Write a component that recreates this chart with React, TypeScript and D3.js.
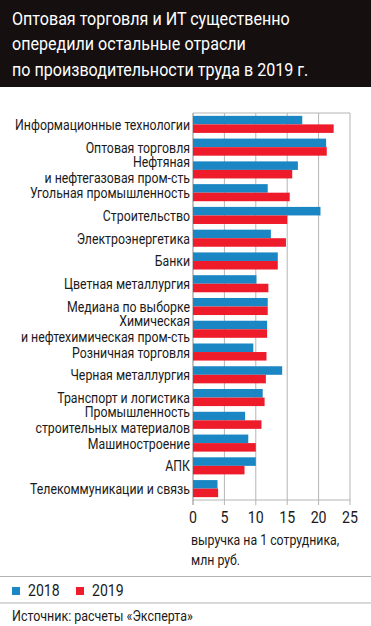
import React from "react";
import * as d3 from "d3";

const categories = [
  "Информационные технологии",
  "Оптовая торговля",
  "Нефтяная\nи нефтегазовая пром-сть",
  "Угольная промышленность",
  "Строительство",
  "Электроэнергетика",
  "Банки",
  "Цветная металлургия",
  "Медиана по выборке",
  "Химическая\nи нефтехимическая пром-сть",
  "Розничная торговля",
  "Черная металлургия",
  "Транспорт и логистика",
  "Промышленность\nстроительных материалов",
  "Машиностроение",
  "АПК",
  "Телекоммуникации и связь",
];

const values2018 = [17.4, 21.2, 16.7, 11.9, 20.3, 12.4, 13.5, 10.1, 11.9, 11.8, 9.6, 14.2, 11.1, 8.3, 8.8, 10.0, 3.9];
const values2019 = [22.4, 21.3, 15.8, 15.4, 15.0, 14.8, 13.5, 12.0, 11.9, 11.8, 11.7, 11.6, 11.4, 10.9, 10.0, 8.2, 4.0];

const xTicks = [0, 5, 10, 15, 20, 25];
const titleLines = [
  "Оптовая торговля и ИТ существенно",
  "опередили остальные отрасли",
  "по производительности труда в 2019 г.",
];
const axisTitleLines = ["выручка на 1 сотрудника,", "млн руб."];
const seriesNames = ["2018", "2019"];
const sourceText = "Источник: расчеты «Эксперта»";

const W = 371;
const H = 626;
const BLUE = "#1a86c4";
const RED = "#ee1c2b";
const GRID = "#b4b4b4";
const FONT = "Roboto, 'Liberation Sans', sans-serif";

export default function App() {
  const x = d3.scaleLinear().domain([0, 25]).range([193, 350]);
  const y = d3
    .scaleBand<string>()
    .domain(categories)
    .range([113, 500])
    .paddingInner(0.25)
    .paddingOuter(0.125);
  const bw = y.bandwidth() / 2;
  const top = 113;
  const bottom = 500;

  const cText = (
    key: string | number,
    tx: number,
    ty: number,
    content: string,
    size: number,
    anchor: "start" | "middle" | "end",
    sx: number,
    fill = "#1a1a1a"
  ) => (
    <text
      key={key}
      transform={`translate(${tx},${ty}) scale(${sx},1)`}
      fontSize={size}
      textAnchor={anchor}
      fill={fill}
      fontFamily={FONT}
    >
      {content}
    </text>
  );

  return (
    <svg
      width={W}
      height={H}
      style={{ position: "absolute", left: 0, top: 0, display: "block", background: "#fff" }}
    >
      <rect x={0} y={0} width={W} height={87} fill="#150f10" />
      {titleLines.map((t, i) => cText("t" + i, 12, 24.5 + i * 25.5, t, 18.5, "start", 0.87, "#ffffff"))}

      {/* grid */}
      <line x1={x(0)} x2={x(25)} y1={top} y2={top} stroke={GRID} strokeWidth={1} />
      <line x1={x(0)} x2={x(25)} y1={bottom} y2={bottom} stroke={GRID} strokeWidth={1} />
      {xTicks.map((t) => (
        <line
          key={"g" + t}
          x1={x(t)}
          x2={x(t)}
          y1={top}
          y2={bottom + 5}
          stroke={t === 0 ? "#888" : GRID}
          strokeWidth={1}
        />
      ))}

      {/* bars */}
      {categories.map((c, i) => {
        const y0 = y(c)!;
        return (
          <g key={"b" + i}>
            <rect x={x(0)} y={y0} width={x(values2018[i]) - x(0)} height={bw} fill={BLUE} />
            <rect x={x(0)} y={y0 + bw} width={x(values2019[i]) - x(0)} height={bw} fill={RED} />
          </g>
        );
      })}

      {/* category labels */}
      {categories.map((c, i) => {
        const cy = y(c)! + y.bandwidth() / 2;
        const lines = c.split("\n");
        if (lines.length === 1) return cText("l" + i, 190, cy + 5.5, c, 14.5, "end", 0.85);
        return (
          <g key={"l" + i}>
            {lines.map((ln, j) => cText(j, 190, cy - 3 + j * 16, ln, 14.5, "end", 0.85))}
          </g>
        );
      })}

      {/* tick labels */}
      {xTicks.map((t) => cText("x" + t, x(t), 523, String(t), 16.5, "middle", 0.86))}
      {axisTitleLines.map((t, i) => cText("a" + i, 191, 545 + i * 20, t, 14.5, "start", 0.85))}

      {/* legend */}
      <line x1={0} x2={W} y1={576.5} y2={576.5} stroke={GRID} strokeWidth={1.2} />
      <line x1={0} x2={W} y1={603} y2={603} stroke={GRID} strokeWidth={1.2} />
      {seriesNames.map((s, i) => (
        <g key={"lg" + i}>
          <rect x={12 + i * 64} y={587} width={8} height={8} fill={i === 0 ? BLUE : RED} />
          {cText("lt", 28 + i * 64, 596, s, 16, "start", 0.88)}
        </g>
      ))}
      {cText("src", 12, 621, sourceText, 14, "start", 0.89)}
    </svg>
  );
}
